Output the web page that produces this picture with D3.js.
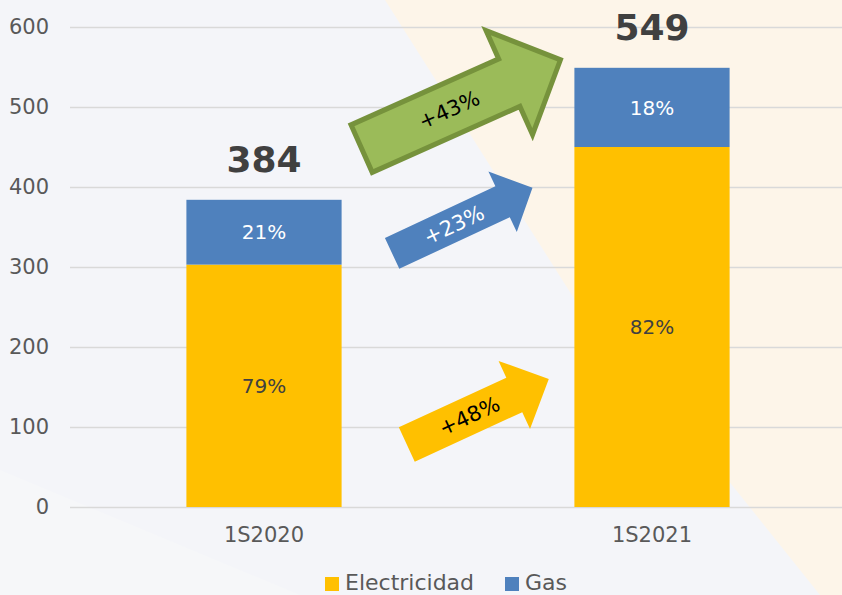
<!DOCTYPE html>
<html>
<head>
<meta charset="utf-8">
<script src="https://cdn.jsdelivr.net/npm/d3@7"></script>
<style>
  body { margin: 0; background: #f4f5f9; }
  svg { display: block; font-family: 'DejaVu Sans', sans-serif; }
</style>
</head>
<body>
<div id="chart"></div>
<script>
// chart values
const categories = ['1S2020', '1S2021'];
const electricidad = [303, 450];
const gas = [81, 99];
const totals = [384, 549];
const electricidadPct = ['79%', '82%'];
const gasPct = ['21%', '18%'];
const yTicks = [0, 100, 200, 300, 400, 500, 600];
const seriesNames = ['Electricidad', 'Gas'];

// growth arrows: label, start value -> end value
const growthLabels = ['+43%', '+23%', '+48%'];
const growthFrom = [448, 317, 78];
const growthTo = [559, 399, 160];

const width = 842;
const height = 595;
const colors = { Electricidad: '#ffc000', Gas: '#4f81bd' };

const svg = d3.select('#chart')
  .append('svg')
  .attr('width', width)
  .attr('height', height);

// background
svg.append('rect').attr('width', width).attr('height', height).attr('fill', '#f4f5f9');
svg.append('path')
  .attr('d', 'M385,0 L842,0 L842,595 L820,595 L720,470 L575,300 Z')
  .attr('fill', '#fdf5e9');
svg.append('path')
  .attr('d', 'M0,470 L300,595 L0,595 Z')
  .attr('fill', '#f6f7f9');

const yScale = d3.scaleLinear().domain([0, 600]).range([507, 27]);
const xScale = d3.scaleBand().domain(categories).range([70, 846]);
const barWidth = xScale.bandwidth() * 0.4;
const barX = (c) => xScale(c) + (xScale.bandwidth() - barWidth) / 2;

// gridlines + y labels
const yAxis = svg.append('g')
  .attr('transform', 'translate(70,0)')
  .call(d3.axisLeft(yScale).tickValues(yTicks).tickSize(-772).tickPadding(21));
yAxis.select('.domain').remove();
yAxis.selectAll('line').attr('stroke', '#d9d9d9').attr('stroke-width', 1.5);
yAxis.selectAll('text')
  .attr('fill', '#595959')
  .style('font-size', '21px')
  .style('font-family', 'DejaVu Sans, sans-serif');

// x labels
svg.append('g')
  .selectAll('text')
  .data(categories)
  .join('text')
  .attr('x', (d) => barX(d) + barWidth / 2)
  .attr('y', 542)
  .attr('text-anchor', 'middle')
  .attr('fill', '#595959')
  .style('font-size', '21px')
  .text((d) => d);

// stacked bars
const rows = categories.map((c, i) => ({ cat: c, Electricidad: electricidad[i], Gas: gas[i] }));
const stacked = d3.stack().keys(seriesNames)(rows);

const bars = svg.append('g');
stacked.forEach((layer) => {
  bars.selectAll(null)
    .data(layer)
    .join('rect')
    .attr('x', (d) => barX(d.data.cat))
    .attr('width', barWidth)
    .attr('y', (d) => yScale(d[1]))
    .attr('height', (d) => yScale(d[0]) - yScale(d[1]))
    .attr('fill', colors[layer.key]);
});

// percentage labels inside bars
const pctLabels = { Electricidad: electricidadPct, Gas: gasPct };
const pctColors = { Electricidad: '#404040', Gas: '#ffffff' };
stacked.forEach((layer) => {
  svg.append('g')
    .selectAll('text')
    .data(layer)
    .join('text')
    .attr('x', (d) => barX(d.data.cat) + barWidth / 2)
    .attr('y', (d) => yScale((d[0] + d[1]) / 2))
    .attr('dy', '0.36em')
    .attr('text-anchor', 'middle')
    .attr('fill', pctColors[layer.key])
    .style('font-size', '20px')
    .text((d, i) => pctLabels[layer.key][i]);
});

// totals
svg.append('g')
  .selectAll('text')
  .data(totals)
  .join('text')
  .attr('x', (d, i) => barX(categories[i]) + barWidth / 2)
  .attr('y', (d) => yScale(d) - 28)
  .attr('text-anchor', 'middle')
  .attr('fill', '#404040')
  .style('font-size', '36px')
  .style('font-weight', 'bold')
  .text((d) => d);

// growth arrows between the two bars
const gapStart = barX(categories[0]) + barWidth;
const gapEnd = barX(categories[1]);
const gapX = d3.scaleLinear().domain([0, 1]).range([gapStart, gapEnd]);
const arrows = [
  { fill: '#9bbb59', stroke: '#76923c', text: '#000', fx: [0.086, 0.94], shaft: 52, head: 114, headLen: 56 },
  { fill: '#4f81bd', stroke: 'none', text: '#fff', fx: [0.217, 0.82], shaft: 34, head: 67, headLen: 33 },
  { fill: '#ffc000', stroke: 'none', text: '#000', fx: [0.28, 0.89], shaft: 38, head: 75, headLen: 38 },
];

arrows.forEach((a, i) => {
  const x0 = gapX(a.fx[0]);
  const y0 = yScale(growthFrom[i]);
  const x1 = gapX(a.fx[1]);
  const y1 = yScale(growthTo[i]);
  const len = Math.hypot(x1 - x0, y1 - y0);
  const angle = Math.atan2(y1 - y0, x1 - x0) * 180 / Math.PI;
  const s = a.shaft / 2;
  const h = a.head / 2;
  const b = len - a.headLen;
  const path = d3.path();
  path.moveTo(0, -s);
  path.lineTo(b, -s);
  path.lineTo(b, -h);
  path.lineTo(len, 0);
  path.lineTo(b, h);
  path.lineTo(b, s);
  path.lineTo(0, s);
  path.closePath();

  const g = svg.append('g')
    .attr('transform', `translate(${x0},${y0}) rotate(${angle})`);
  g.append('path')
    .attr('d', path.toString())
    .attr('fill', a.fill)
    .attr('stroke', a.stroke)
    .attr('stroke-width', 5)
    .attr('stroke-linejoin', 'miter');
  g.append('text')
    .attr('x', len * 0.44)
    .attr('y', 0)
    .attr('dy', '0.36em')
    .attr('text-anchor', 'middle')
    .attr('fill', a.text)
    .style('font-size', '21px')
    .text(growthLabels[i]);
});

// legend
const legendX = [325, 505];
const legend = svg.append('g');
seriesNames.forEach((name, i) => {
  legend.append('rect')
    .attr('x', legendX[i])
    .attr('y', 577)
    .attr('width', 14)
    .attr('height', 14)
    .attr('fill', colors[name]);
  legend.append('text')
    .attr('x', legendX[i] + 20)
    .attr('y', 590)
    .attr('fill', '#595959')
    .style('font-size', '22px')
    .text(name);
});
</script>
</body>
</html>
